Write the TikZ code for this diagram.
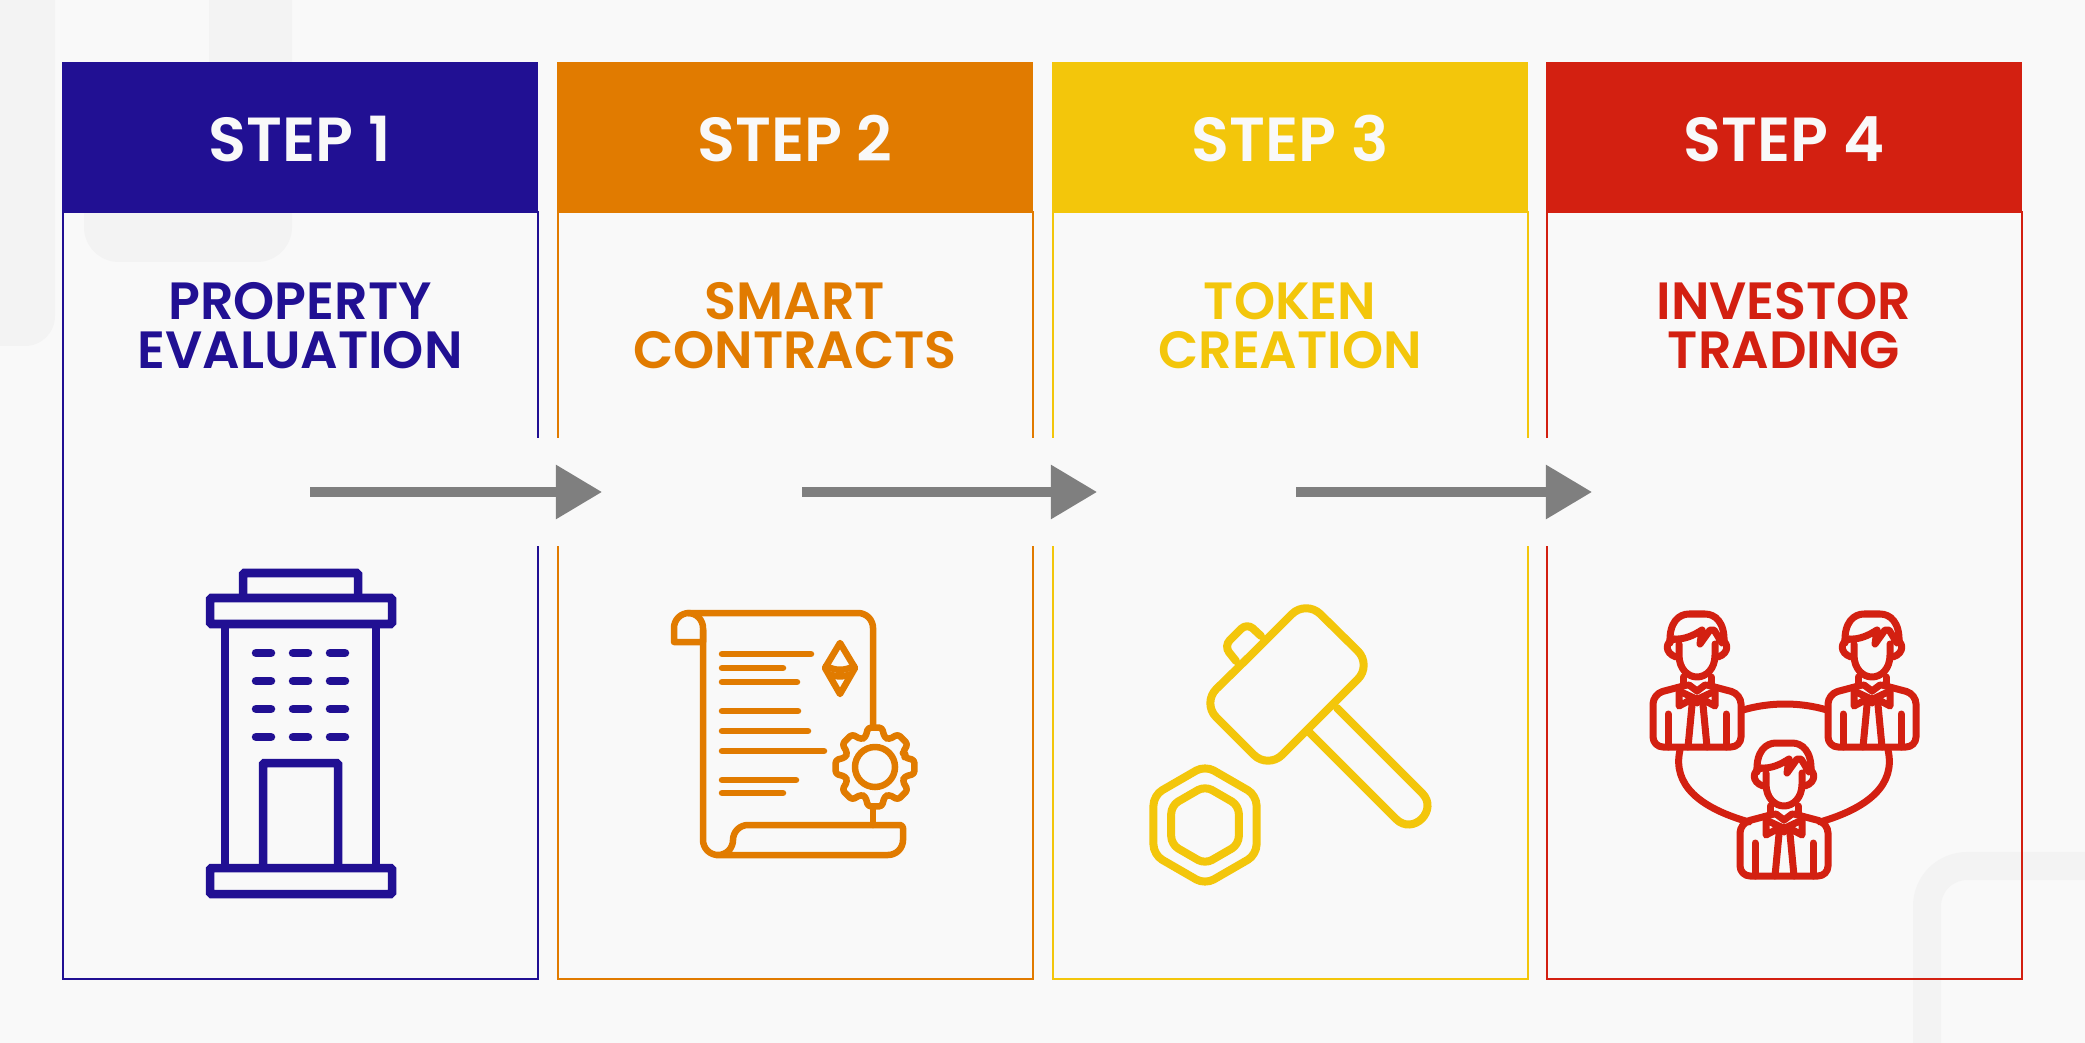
\documentclass[tikz,border=0pt]{standalone}
\usepackage{fontspec}
\newfontfamily\stepfont{Poppins SemiBold}
\usetikzlibrary{arrows.meta}
\definecolor{pagebg}{HTML}{F9F9F9}
\definecolor{markbg}{HTML}{F3F3F3}
\definecolor{stepblue}{HTML}{211093}
\definecolor{steporange}{HTML}{E17B00}
\definecolor{stepyellow}{HTML}{F3C60B}
\definecolor{stepred}{HTML}{D32011}
\definecolor{flowgrey}{HTML}{7F7F7F}
\tikzset{
  stephead/.style={text=pagebg,font=\stepfont\fontsize{17.7}{20}\selectfont},
  steptitle/.style={align=center,font=\stepfont\fontsize{14.9}{13.9}\selectfont},
  flowarrow/.style={flowgrey,line width=0.09cm,-{Triangle[length=0.46cm,width=0.52cm]}},
  iconline/.style={line width=0.065cm,line cap=round,line join=round}
}
\begin{document}
\begin{tikzpicture}[x=0.01cm,y=-0.01cm]
  \useasboundingbox (0,0) rectangle (2085,1043);
  \fill[pagebg] (0,0) rectangle (2085,1043);
  \fill[markbg] (0,0) -- (55,0) [rounded corners=0.3cm] -- (55,346) [sharp corners] -- (0,346) -- cycle;
  \fill[markbg] (209,0) -- (292,0) [rounded corners=0.35cm] -- (292,262) -- (84,262) -- (84,150) [sharp corners] -- (209,150) -- cycle;
  \draw[markbg,line width=0.28cm,rounded corners=0.4cm] (2085,866) -- (1927,866) -- (1927,1043);
  \foreach \n/\x/\c/\t in {1/62/stepblue/{PROPERTY\\EVALUATION},2/557/steporange/{SMART\\CONTRACTS},
      3/1052/stepyellow/{TOKEN\\CREATION},4/1546/stepred/{INVESTOR\\TRADING}} {
    \draw[\c,line width=0.02cm] (\x+1,212) rectangle +(475,767);
    \fill[\c] (\x,62) rectangle +(476,150);
    \node[stephead] (head\n) at (\x+238,139) {STEP \n};
    \node[steptitle,text=\c] (title\n) at (\x+238,326) {\t};
  }
  \foreach \n/\x/\s in {1/533/310,2/1028/802,3/1523/1296} {
    \fill[pagebg] (\x,438) rectangle +(30,108);
    \coordinate (from\n) at (\s,492);
    \coordinate (to\n) at (\x+69,492);
    \draw[flowarrow] (from\n) -- (to\n);
  }
  \begin{scope}[stepblue,line width=0.085cm,rounded corners=0.015cm]
    \draw (243,598) -- (243,573) -- (358,573) -- (358,598);
    \draw (210,598) rectangle (392,624);
    \draw (225,624) -- (225,868) (376,624) -- (376,868);
    \draw (210,868) rectangle (392,894);
    \draw (263,868) -- (263,763) -- (338,763) -- (338,868);
    \foreach \y in {653,681,709,737}
      \foreach \x in {256,293,330}
        \draw[line cap=round] (\x,\y) -- +(15,0);
  \end{scope}
  \begin{scope}[steporange,iconline]
    \draw (703,642) -- (674,642) [rounded corners=0.15cm] -- (674,613) -- (703,613) -- (703,642);
    \draw[rounded corners=0.15cm] (688,613) -- (873,613) -- (873,727);
    \draw (703,630) [rounded corners=0.15cm] -- (703,855) -- (733,855) -- (733,825) [rounded corners=0.03cm] -- (903,825) [rounded corners=0.15cm] -- (903,855) -- (716,855);
    \foreach \y/\e in {654/811,668/783,682/797,711/798,731/808,751/824,780/796,793/783}
      \draw (722,\y) -- (\e,\y);
    \draw (840,643) -- (855,668) -- (840,694) -- (825,668) -- cycle;
    \draw (826,666) .. controls (835,671) and (845,671) .. (854,666);
    \draw (832,675) .. controls (837,677) and (843,677) .. (848,675);
    \begin{scope}[shift={(875,767)}]
      \draw[rounded corners=0.03cm] (-22.5:33) \foreach \a in {0,45,...,315} {
        -- ({\a-18}:31) -- ({\a-10}:40) -- ({\a+10}:40) -- ({\a+18}:31)} -- cycle;
      \draw (0,0) circle[radius=0.2cm];
    \end{scope}
    \draw (873,809) -- (873,825);
  \end{scope}
  \begin{scope}[stepyellow,iconline,line width=0.08cm]
    \draw[rounded corners=0.2cm] (1250,656) -- (1306,600) -- (1372,665) -- (1268,769) -- (1202,703) -- cycle;
    \draw[rounded corners=0.08cm] (1236,661) -- (1224,646) -- (1247,623) -- (1261,636);
    \draw (1337,708) -- (1422,793) .. controls (1439,810) and (1413,836) .. (1396,819) -- (1310,733);
    \begin{scope}[shift={(1205,825)}]
      \draw[rounded corners=0.1cm] (90:59.5) -- (30:59.5) -- (-30:59.5) -- (-90:59.5) -- (-150:59.5) -- (150:59.5) -- cycle;
      \draw[rounded corners=0.08cm] (90:39) -- (30:39) -- (-30:39) -- (-90:39) -- (-150:39) -- (150:39) -- cycle;
    \end{scope}
  \end{scope}
  \begin{scope}[stepred,iconline,line width=0.07cm]
    \draw (1743,710) .. controls (1770,702) and (1800,702) .. (1827,710);
    \draw (1680,750) .. controls (1672,785) and (1700,808) .. (1749,822);
    \draw (1888,750) .. controls (1896,785) and (1868,808) .. (1820,822);
    \foreach \px/\py in {1697/747,1872/747,1784/876} {
      \begin{scope}[shift={(\px,\py)}]
        \draw[rounded corners=0.1cm] (-10,-62) -- (-44,-53) -- (-44,0) -- (44,0) -- (44,-53) -- (10,-62);
        \draw (-18,-103) -- (-18,-92) .. controls (-18,-78) and (-9,-70) .. (0,-70) .. controls (9,-70) and (18,-78) .. (18,-92) -- (18,-103);
        \draw (-27,-104) .. controls (-28,-125) and (-18,-133) .. (-8,-133) -- (8,-133) .. controls (18,-133) and (28,-125) .. (27,-104);
        \draw (-25,-108) .. controls (-12,-107) and (-3,-112) .. (5,-117) -- (3,-103) -- (13,-117) -- (17,-117) -- (25,-104);
        \draw (-22,-108) .. controls (-32,-106) and (-33,-94) .. (-21,-90);
        \draw (22,-108) .. controls (32,-106) and (33,-94) .. (21,-90);
        \draw (-14,-70) -- (-14,-62) (14,-70) -- (14,-62);
        \draw (-8,-62) -- (0,-56) -- (8,-62);
        \draw (-18,-56) -- (-18,-41) -- (-3,-49) -- cycle;
        \draw (18,-56) -- (18,-41) -- (3,-49) -- cycle;
        \draw (-3,-47) -- (0,-49) -- (3,-47) -- (0,-44) -- cycle;
        \draw (-5,-42) -- (-9,0) (6,-42) -- (10,0);
        \draw (-29,-33) -- (-29,0) (29,-33) -- (29,0);
      \end{scope}
    }
  \end{scope}
\end{tikzpicture}
\end{document}
